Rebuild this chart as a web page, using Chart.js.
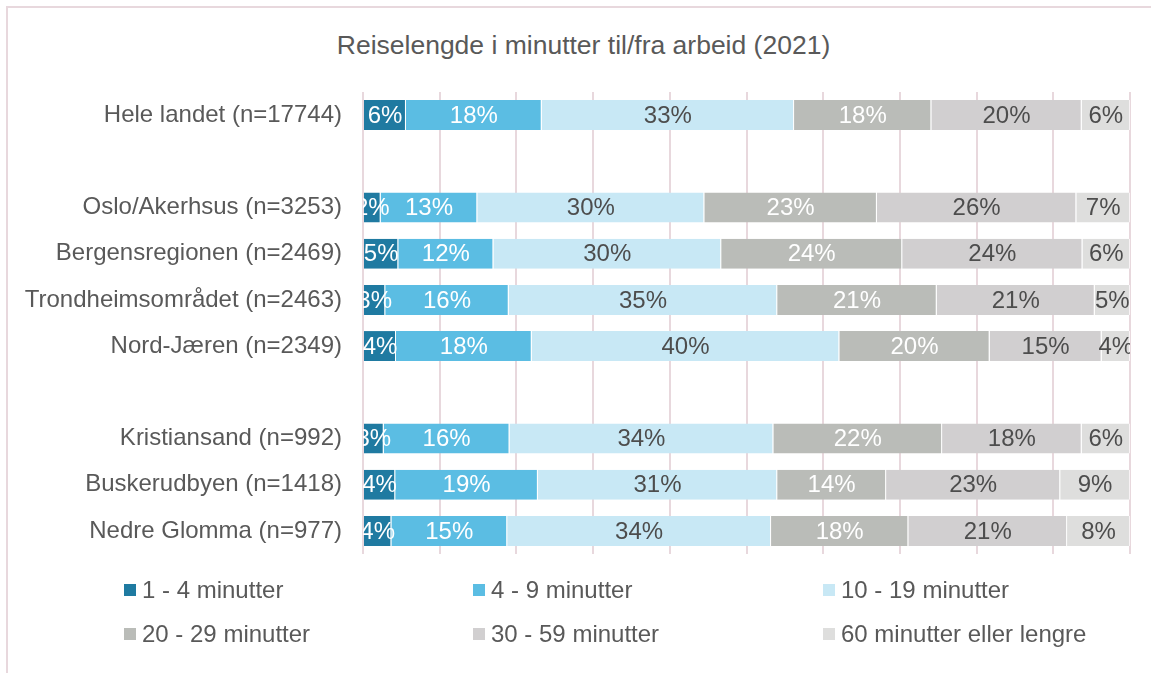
<!DOCTYPE html>
<html>
<head>
<meta charset="utf-8">
<script src="https://cdn.jsdelivr.net/npm/chart.js@4/dist/chart.umd.min.js"></script>
<style>
  html, body { margin: 0; padding: 0; background: #ffffff; }
  #wrap { position: relative; width: 1151px; height: 673px; overflow: hidden; font-family: 'Liberation Sans', Arial, sans-serif; }
  #frame { position: absolute; left: 6px; top: 6px; width: 1200px; height: 720px; border-left: 2px solid #e8d8dd; border-top: 2px solid #e8d8dd; box-sizing: border-box; }
  #title { position: absolute; left: 0; top: 30px; width: 1167px; text-align: center; font-size: 26.5px; line-height: 30px; color: #595959; }
  #chart { position: absolute; left: 0; top: 0; }
  .lg { position: absolute; font-size: 24px; line-height: 28px; color: #595959; white-space: nowrap; }
  .lg i { position: absolute; left: 0; top: 8px; width: 12px; height: 12px; }
  .lg span { position: absolute; left: 18px; top: 0; }
</style>
</head>
<body>
<div id="wrap">
  <div id="frame"></div>
  <div id="title">Reiselengde i minutter til/fra arbeid (2021)</div>
  <canvas id="chart" width="1151" height="673"></canvas>
  <div id="legend"></div>
</div>
<script>
// ---- Data ----
const categories = [
  'Hele landet (n=17744)', '',
  'Oslo/Akerhsus (n=3253)', 'Bergensregionen (n=2469)', 'Trondheimsområdet (n=2463)', 'Nord-Jæren (n=2349)', '',
  'Kristiansand (n=992)', 'Buskerudbyen (n=1418)', 'Nedre Glomma (n=977)'
];
const seriesNames = ['1 - 4 minutter', '4 - 9 minutter', '10 - 19 minutter', '20 - 29 minutter', '30 - 59 minutter', '60 minutter eller lengre'];
const min1to4   = [5.6, null, 2.3, 4.6, 2.9, 4.3, null, 2.7, 4.2, 3.7];
const min4to9   = [17.7, null, 12.6, 12.4, 16.1, 17.7, null, 16.4, 18.6, 15.1];
const min10to19 = [32.9, null, 29.6, 29.7, 35.0, 40.1, null, 34.4, 31.2, 34.4];
const min20to29 = [17.9, null, 22.5, 23.6, 20.8, 19.6, null, 22.0, 14.2, 17.9];
const min30to59 = [19.6, null, 26.0, 23.5, 20.6, 14.6, null, 18.2, 22.7, 20.7];
const min60plus = [6.3, null, 7.0, 6.2, 4.6, 3.7, null, 6.3, 9.1, 8.2];
const xTicks = [0, 10, 20, 30, 40, 50, 60, 70, 80, 90, 100];

const seriesValues = [min1to4, min4to9, min10to19, min20to29, min30to59, min60plus];
const colors = ['#1f7aa1', '#5bbde3', '#c8e8f5', '#babcb8', '#d1cfd0', '#dededd'];
const labelColors = ['#ffffff', '#ffffff', '#4d4d4d', '#ffffff', '#4d4d4d', '#4d4d4d'];

Chart.defaults.font.family = "'Liberation Sans', Arial, sans-serif";

const valueLabels = {
  id: 'valueLabels',
  afterDatasetsDraw(chart) {
    const ctx = chart.ctx;
    const a = chart.chartArea;
    ctx.save();
    ctx.beginPath();
    ctx.rect(a.left, a.top, a.right - a.left, a.bottom - a.top);
    ctx.clip();
    ctx.font = "24px 'Liberation Sans', Arial, sans-serif";
    ctx.textAlign = 'center';
    ctx.textBaseline = 'middle';
    chart.data.datasets.forEach((ds, di) => {
      const meta = chart.getDatasetMeta(di);
      meta.data.forEach((el, i) => {
        const v = ds.data[i];
        if (v === null || v === undefined) return;
        const cx = (el.x + el.base) / 2;
        ctx.fillStyle = labelColors[di];
        ctx.fillText(Math.round(v) + '%', cx, el.y + 1);
      });
    });
    ctx.restore();
  }
};

const chart = new Chart(document.getElementById('chart'), {
  type: 'bar',
  data: {
    labels: categories,
    datasets: seriesValues.map((vals, i) => ({
      label: seriesNames[i],
      data: vals,
      backgroundColor: colors[i],
      borderColor: 'rgba(255,255,255,0.7)',
      borderWidth: { left: 0, right: 1, top: 0, bottom: 0 },
      borderSkipped: false,
      barPercentage: 1,
      categoryPercentage: 0.65
    }))
  },
  options: {
    indexAxis: 'y',
    responsive: false,
    animation: false,
    layout: { padding: { left: 0, top: 92, right: 21, bottom: 119 } },
    plugins: { legend: { display: false }, title: { display: false }, tooltip: { enabled: false } },
    scales: {
      x: {
        stacked: true,
        min: 0, max: 100,
        afterBuildTicks: s => { s.ticks = xTicks.map(v => ({ value: v })); },
        ticks: { display: false },
        grid: { color: '#e8d8dd', lineWidth: 2, drawTicks: false },
        border: { display: false },
        afterFit: s => { s.height = 0; }
      },
      y: {
        stacked: true,
        ticks: { autoSkip: false, padding: 21, color: '#595959', font: { size: 24 } },
        grid: { display: false, drawTicks: false },
        border: { display: false },
        afterFit: s => { s.width = 363; }
      }
    }
  },
  plugins: [valueLabels]
});

// HTML legend built from dataset names/colours
const legend = document.getElementById('legend');
const colX = [124, 473, 823];
const rowY = [576, 620];
chart.data.datasets.forEach((ds, i) => {
  const d = document.createElement('div');
  d.className = 'lg';
  d.style.left = colX[i % 3] + 'px';
  d.style.top = rowY[Math.floor(i / 3)] + 'px';
  d.innerHTML = '<i style="background:' + ds.backgroundColor + '"></i><span>' + ds.label + '</span>';
  legend.appendChild(d);
});
</script>
</body>
</html>
